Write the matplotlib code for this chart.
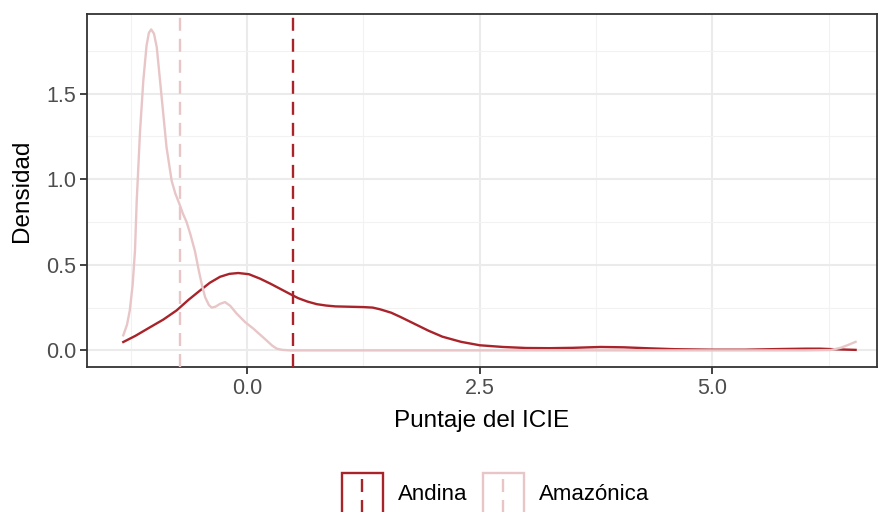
import numpy as np
import matplotlib.pyplot as plt
from matplotlib.patches import Rectangle
from matplotlib.lines import Line2D

plt.rcParams['font.family'] = ['Liberation Sans', 'DejaVu Sans']

# curvas de densidad
x_andina = [-1.33, -1.2, -1.04, -0.9, -0.756, -0.63, -0.505, -0.4, -0.29, -0.19, -0.094, 0.02, 0.14, 0.25,
            0.355, 0.46, 0.55, 0.65, 0.75, 0.85, 0.95, 1.1, 1.25, 1.35, 1.43, 1.55, 1.65, 1.8, 1.95, 2.1,
            2.3, 2.5, 2.75, 3.0, 3.25, 3.5, 3.8, 4.05, 4.33, 4.6, 5.0, 5.35, 5.73, 6.0, 6.16, 6.35, 6.54]
y_andina = [0.049, 0.085, 0.136, 0.18, 0.234, 0.295, 0.35, 0.395, 0.43, 0.447, 0.452, 0.445, 0.419, 0.39,
            0.36, 0.33, 0.305, 0.285, 0.27, 0.262, 0.257, 0.255, 0.253, 0.25, 0.24, 0.22, 0.195, 0.155, 0.115, 0.08,
            0.05, 0.03, 0.02, 0.014, 0.013, 0.015, 0.02, 0.018, 0.012, 0.007, 0.004, 0.004, 0.008, 0.01, 0.01, 0.006, 0.003]

x_amazonica = [-1.33, -1.29, -1.26, -1.23, -1.204, -1.186, -1.15, -1.115, -1.08, -1.055, -1.03, -1.0,
               -0.97, -0.935, -0.90, -0.865, -0.81, -0.77, -0.73, -0.69, -0.65, -0.61, -0.56, -0.52,
               -0.48, -0.45, -0.41, -0.38, -0.34, -0.29, -0.237, -0.18, -0.11, -0.02, 0.068, 0.14,
               0.21, 0.27, 0.32, 0.38, 0.46, 1.0, 2.0, 3.0, 4.0, 5.0, 6.0, 6.27, 6.38, 6.46, 6.54]
y_amazonica = [0.088, 0.15, 0.234, 0.38, 0.585, 0.87, 1.28, 1.575, 1.78, 1.855, 1.875, 1.85,
               1.77, 1.575, 1.38, 1.185, 0.99, 0.915, 0.86, 0.80, 0.75, 0.68, 0.58, 0.47,
               0.37, 0.31, 0.265, 0.25, 0.255, 0.272, 0.282, 0.26, 0.214, 0.165, 0.127, 0.092,
               0.058, 0.028, 0.01, 0.003, 0.0, 0.0, 0.0, 0.0, 0.0, 0.0, 0.0, 0.002, 0.015, 0.032, 0.05]

# medias por region
media_andina = 0.495
media_amazonica = -0.72

color_andina = '#A8232A'
color_amazonica = '#E8C6C8'
guiones = (0, (5.5, 3.4))

fig = plt.figure(figsize=(8.79, 5.12), dpi=100)
ax = fig.add_axes([87/879, 1 - 367/512, 790/879, 353/512])

ax.plot(x_andina, y_andina, color=color_andina, linewidth=1.7, zorder=3)
ax.plot(x_amazonica, y_amazonica, color=color_amazonica, linewidth=1.7, zorder=3)
ax.axvline(media_andina, color=color_andina, linestyle=guiones, linewidth=1.7, zorder=4)
ax.axvline(media_amazonica, color=color_amazonica, linestyle=guiones, linewidth=1.7, zorder=4)

ax.set_xlim(-1.72, 6.77)
ax.set_ylim(-0.097, 1.965)

ax.set_xticks([0.0, 2.5, 5.0])
ax.set_xticklabels(['0.0', '2.5', '5.0'])
ax.set_yticks([0.0, 0.5, 1.0, 1.5])
ax.set_yticklabels(['0.0', '0.5', '1.0', '1.5'])
ax.set_xticks([-1.25, 1.25, 3.75, 6.25], minor=True)
ax.set_yticks([0.25, 0.75, 1.25, 1.75], minor=True)

ax.grid(True, which='major', color='#EBEBEB', linewidth=1.5, zorder=0)
ax.grid(True, which='minor', color='#F2F2F2', linewidth=0.8, zorder=0)
ax.set_axisbelow(True)

for s in ax.spines.values():
    s.set_color('#333333')
    s.set_linewidth(1.3)

ax.tick_params(which='major', length=5, width=1.3, color='#333333', labelcolor='#4D4D4D',
               labelsize=15.5, pad=3)
ax.tick_params(which='minor', length=0)

ax.set_xlabel('Puntaje del ICIE', fontsize=17.5, labelpad=8)
ax.set_ylabel('Densidad', fontsize=17.5, labelpad=9)

# leyenda dibujada a mano (caja + linea punteada vertical)
W, H = 879, 512
def px(x, y):
    return x / W, 1 - y / H

for x0, col, txt in [(342, color_andina, 'Andina'), (483, color_amazonica, 'Amazónica')]:
    fx, fy = px(x0, 520)
    fig.add_artist(Rectangle((fx, fy), 41 / W, 47 / H, fill=False, edgecolor=col,
                             linewidth=1.7, transform=fig.transFigure))
    lx = (x0 + 20.5) / W
    fig.add_artist(Line2D([lx, lx], [1 - 520 / H, 1 - 473 / H], color=col, linewidth=1.7,
                          linestyle=guiones, transform=fig.transFigure))
    tx, ty = px(x0 + 56, 495)
    fig.text(tx, ty, txt, fontsize=16, va='center', ha='left', color='black')

fig.savefig('out.png', dpi=100)
